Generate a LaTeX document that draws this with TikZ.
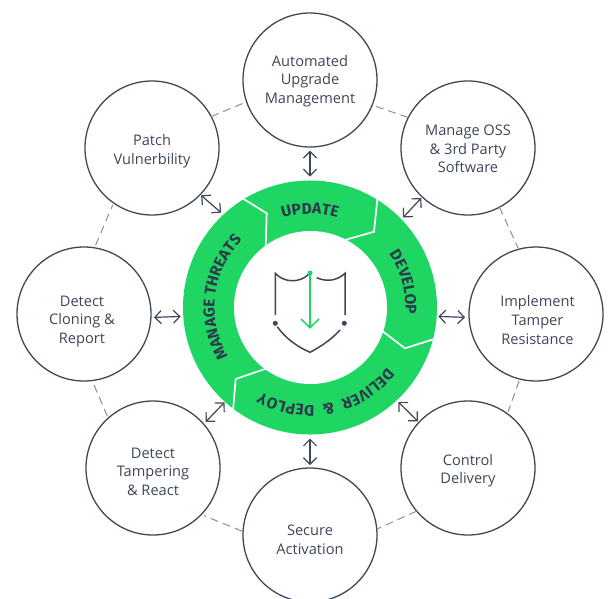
\documentclass[tikz,border=0pt]{standalone}
\usepackage{fontspec}
\setmainfont{Open Sans}
\newfontfamily\ringfont{Fira Sans}
\usetikzlibrary{arrows.meta,decorations.text}
\definecolor{ink}{HTML}{3D4757}
\definecolor{ringink}{HTML}{2C3A4B}
\definecolor{ringgreen}{HTML}{20D663}
\definecolor{dashgrey}{HTML}{8C9094}
\newcommand\ringstyle{\fontsize{15.6}{15.6}\selectfont\ringfont\bfseries\color{ringink}}
\tikzset{
  bubble/.style={circle,draw=ink,fill=white,line width=1.3pt,minimum size=134pt,inner sep=0pt,outer sep=0pt},
  bubbletext/.style={align=center,text=ink,inner sep=0pt,font=\fontsize{14.6}{18.6}\selectfont},
  ringdisc/.style={circle,fill=ringgreen,minimum size=254pt,inner sep=0pt,outer sep=0pt},
  hole/.style={circle,fill=white,minimum size=153pt,inner sep=0pt,outer sep=0pt},
  dbl/.style={draw=ink,line width=1.2pt,{Straight Barb[length=6.5pt,width=13pt,line width=1.2pt]}-{Straight Barb[length=6.5pt,width=13pt,line width=1.2pt]}},
  linkdash/.style={draw=dashgrey,line width=1pt,dash pattern=on 8pt off 5pt},
  cut/.style={draw=white,line width=1.7pt},
  shieldline/.style={draw=ink,line width=1.5pt},
  greenline/.style={draw=ringgreen,line width=1.5pt}
}
\begin{document}
\begin{tikzpicture}[x=1pt,y=-1pt]
\useasboundingbox (0,0) rectangle (610,598);
% ring
\node[ringdisc] (ring) at (310,307.5) {};
\draw[cut] (242,198) -- (266.7,213.3) -- (265.7,248);
\draw[cut] (377.6,197) -- (374,231.7) -- (343,240.5);
\draw[cut] (436,338.4) -- (405,348.3) -- (381,330);
\draw[cut] (233,411) -- (235.7,379) -- (267,368.3);
\node[hole] (hub) at (310.5,307.5) {};
% ring labels
\begin{scope}[shift={(ring.center)},x=1pt,y=1pt]
\path[decorate,decoration={text along path,text align=center,text={|\ringstyle|UPDATE}}] (130:93.5) arc[start angle=130,end angle=50,radius=93.5];
\path[decorate,decoration={text along path,text align=center,text={|\ringstyle|DEVELOP}}] (60:95.5) arc[start angle=60,end angle=-30,radius=95.5];
\path[decorate,decoration={text along path,text align=center,text={|\ringstyle|DELIVER {\ }{\&}{\ } DEPLOY}}] (-10:97.5) arc[start angle=-10,end angle=-148,radius=97.5];
\path[decorate,decoration={text along path,text align=center,text={|\ringstyle|MANAGE THREATS}}] (240:95.5) arc[start angle=240,end angle=106,radius=95.5];
\end{scope}
% shield
\draw[shieldline] (275.3,315) -- (275.3,273.3) .. controls (284,283) and (300,283) .. (308.3,274.5);
\draw[shieldline] (316.7,277.7) .. controls (326,282) and (337,281) .. (345,273.3) -- (345,315);
\draw[shieldline] (277.3,326.7) .. controls (286,339) and (298,347) .. (310,352.3) .. controls (320,347) and (331,340) .. (340,330);
\fill[ink] (275.3,323.3) circle[radius=2.5pt];
\fill[ink] (344.3,323.3) circle[radius=2.5pt];
\draw[greenline] (310,273) -- (310,327.7);
\draw[greenline] (301,319) -- (310,327.7) -- (319,319);
\fill[ringgreen] (310,273) circle[radius=2.5pt];
% bubbles
\node[bubble] (auto) at (310,80) {};
\node[bubble] (oss) at (468,148) {};
\node[bubble] (impl) at (536,314) {};
\node[bubble] (ctrl) at (468,468) {};
\node[bubble] (sec) at (310,535) {};
\node[bubble] (tamp) at (153,468) {};
\node[bubble] (clon) at (84,314) {};
\node[bubble] (patch) at (152,148) {};
\node[bubbletext] (autot) at ([yshift=-1.2pt]auto.center) {Automated\\Upgrade\\Management};
\node[bubbletext] (osst) at ([yshift=-1pt]oss.center) {Manage OSS\\\& 3rd Party\\Software};
\node[bubbletext] (implt) at ([xshift=1.5pt,yshift=-6pt]impl.center) {Implement\\Tamper\\Resistance};
\node[bubbletext] (ctrlt) at ([yshift=-2.5pt]ctrl.center) {Control\\Delivery};
\node[bubbletext] (sect) at ([yshift=-4.7pt]sec.center) {Secure\\Activation};
\node[bubbletext] (tampt) at ([yshift=-3.6pt]tamp.center) {Detect\\Tampering\\\& React};
\node[bubbletext] (clont) at ([xshift=-2pt,yshift=-7.5pt]clon.center) {Detect\\Cloning \&\\Report};
\node[bubbletext] (patcht) at ([yshift=-3pt]patch.center) {Patch\\Vulnerbility};
% dashed links
\draw[linkdash,shorten <=4pt] (auto.-22) -- (oss.153.4);
\draw[linkdash,shorten >=1pt] (oss.-62.4) -- (impl.105.9);
\draw[linkdash,shorten <=2pt,shorten >=2pt] (impl.256.1) -- (ctrl.54.4);
\draw[linkdash,shorten >=1pt] (ctrl.220.8) -- (sec.5.4);
\draw[linkdash,shorten <=1pt,shorten >=3pt] (sec.177.2) -- (tamp.-44.2);
\draw[linkdash,shorten <=2pt] (tamp.132.5) -- (clon.-83.4);
\draw[linkdash,shorten <=3pt,shorten >=2pt] (clon.81.5) -- (patch.235.8);
\draw[linkdash] (patch.28) -- (auto.199.4);
% arrows
\draw[dbl,shorten <=3.7pt,shorten >=4pt] (auto.south) -- (ring.north);
\draw[dbl,shorten <=3pt,shorten >=4pt] (sec.north) -- (ring.south);
\draw[dbl,shorten <=3pt,shorten >=2.7pt] (clon.-3.4) -- (ring.184.7);
\draw[dbl,shorten <=4pt,shorten >=1.7pt] (impl.183.4) -- (ring.-4.7);
\draw[dbl,shorten <=1.2pt,shorten >=3pt] (patch.-44) -- (ring.133);
\draw[dbl,shorten <=1.4pt,shorten >=2.5pt] (oss.227.4) -- (ring.44.6);
\draw[dbl,shorten <=1.5pt,shorten >=2.4pt] (ctrl.137.8) -- (ring.-47.4);
\draw[dbl,shorten <=3pt,shorten >=.6pt] (tamp.41.3) -- (ring.228.2);
\end{tikzpicture}
\end{document}
